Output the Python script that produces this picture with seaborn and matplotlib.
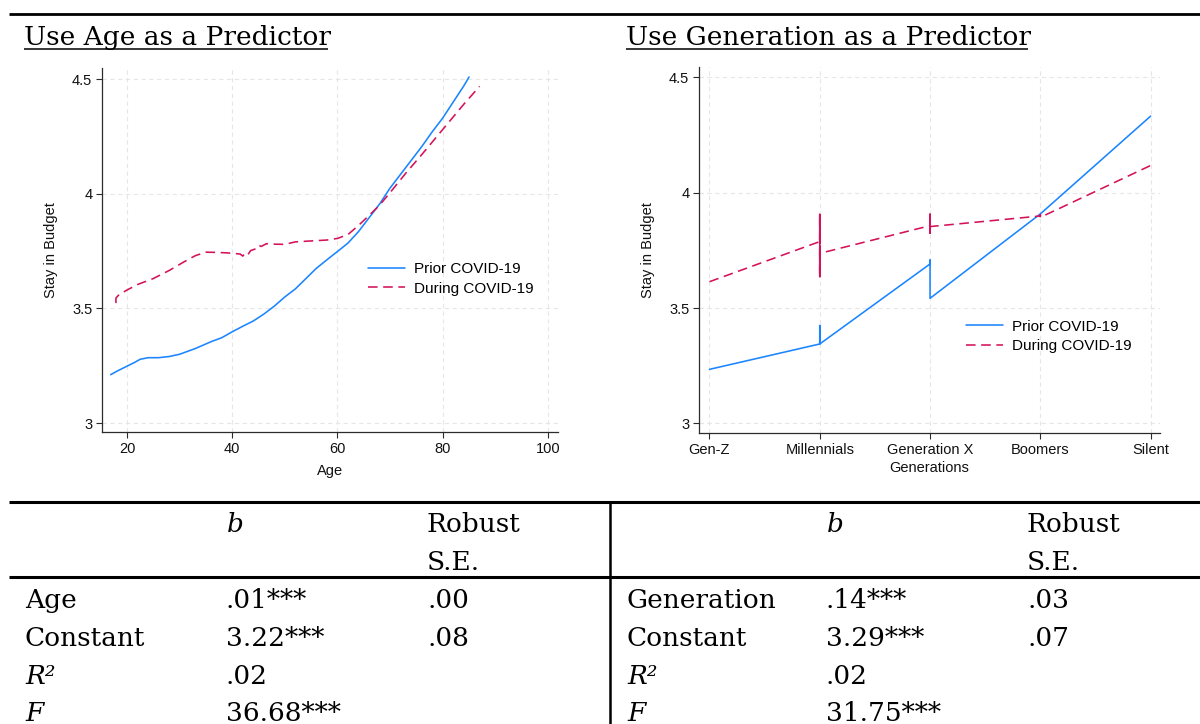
import numpy as np
import pandas as pd
import matplotlib
matplotlib.use("Agg")
import matplotlib.pyplot as plt
import seaborn as sns
from matplotlib.lines import Line2D

# ---------------- data ----------------
age_prior = [16.9, 18, 20, 21.5, 22.5, 24, 26, 28, 30, 33, 36, 38, 40, 42, 44, 46, 48, 50,
             52, 54, 56, 58, 60, 62, 64, 66, 68, 70, 72, 74, 76, 78, 80, 82, 84, 85]
val_prior = [3.211, 3.225, 3.248, 3.265, 3.278, 3.285, 3.285, 3.29, 3.30, 3.325, 3.355, 3.372,
             3.398, 3.422, 3.445, 3.475, 3.51, 3.55, 3.585, 3.63, 3.675, 3.712, 3.748, 3.785,
             3.835, 3.895, 3.955, 4.025, 4.085, 4.145, 4.205, 4.27, 4.33, 4.40, 4.47, 4.509]

age_during = [17.9, 17.9, 18.5, 20, 22, 25, 28, 31, 33, 35, 37, 39, 40, 41.5, 42, 42.5, 43, 43.5,
              44.5, 45, 45.5, 46.5, 48, 50, 52, 55, 58, 60, 62, 64, 66, 68, 70, 73, 76, 80, 84, 87]
val_during = [3.523, 3.545, 3.56, 3.58, 3.604, 3.63, 3.665, 3.705, 3.73, 3.745, 3.744, 3.742,
              3.74, 3.737, 3.728, 3.742, 3.735, 3.752, 3.76, 3.775, 3.77, 3.782, 3.78, 3.779,
              3.79, 3.794, 3.798, 3.805, 3.822, 3.862, 3.905, 3.95, 4.005, 4.09, 4.17, 4.28,
              4.39, 4.468]

generations = ["Gen-Z", "Millennials", "Generation X", "Boomers", "Silent"]
gen_prior_x = [1, 2, 2, 2, 3, 3, 3, 4, 5]
gen_prior_y = [3.234, 3.344, 3.424, 3.344, 3.691, 3.708, 3.542, 3.908, 4.332]
gen_during_x = [1, 2, 2, 2, 2, 2, 2, 2, 2, 3, 3, 3, 3, 3, 3, 4, 4, 4, 5]
gen_during_y = [3.614, 3.788, 3.906, 3.636, 3.906, 3.636, 3.906, 3.636, 3.737,
                3.857, 3.907, 3.824, 3.907, 3.824, 3.853, 3.899, 3.905, 3.893, 4.118]

series_labels = ["Prior COVID-19", "During COVID-19"]
y_ticks = [3, 3.5, 4, 4.5]
y_ticklabels = ["3", "3.5", "4", "4.5"]
age_ticks = [20, 40, 60, 80, 100]

titles = ["Use Age as a Predictor", "Use Generation as a Predictor"]
table_header_b = "b"
table_header_se = ["Robust", "S.E."]
left_row_labels = ["Age", "Constant", "R²", "F"]
left_b = [".01***", "3.22***", ".02", "36.68***"]
left_se = [".00", ".08", "", ""]
right_row_labels = ["Generation", "Constant", "R²", "F"]
right_b = [".14***", "3.29***", ".02", "31.75***"]
right_se = [".03", ".07", "", ""]
italic_labels = {"R²", "F"}

# ---------------- style ----------------
sns.set_theme(style="white")
plt.rcParams["font.family"] = ["Liberation Sans", "DejaVu Sans"]
plt.rcParams["text.color"] = "black"
plt.rcParams["axes.labelcolor"] = "black"

BLUE = "#1a85ff"
RED = "#d41159"
AXC = "#2b2b2b"
W, H = 1200, 724

fig = plt.figure(figsize=(12, 7.24), dpi=100)
fig.patch.set_facecolor("white")


def fx(px):
    return px / W


def fy(py):
    return 1 - py / H


def style_axes(ax):
    ax.set_facecolor("white")
    for s in ["top", "right"]:
        ax.spines[s].set_visible(False)
    for s in ["left", "bottom"]:
        ax.spines[s].set_color(AXC)
        ax.spines[s].set_linewidth(0.9)
    ax.grid(True, color="#e6e6e6", linestyle=(0, (4, 3)), linewidth=0.8)
    ax.set_axisbelow(True)
    ax.tick_params(axis="both", which="major", direction="out", length=4, width=0.8,
                   color=AXC, labelsize=10.5, pad=3, left=True, bottom=True,
                   labelcolor="#111111")
    ax.set_yticks(y_ticks)
    ax.set_yticklabels(y_ticklabels)


# ---------------- left chart ----------------
axL = fig.add_axes([fx(102), fy(432), fx(456), 364 / H])
dfL1 = pd.DataFrame({"x": age_prior, "y": val_prior})
dfL2 = pd.DataFrame({"x": age_during, "y": val_during})
sns.lineplot(data=dfL1, x="x", y="y", ax=axL, color=BLUE, linewidth=1.15,
             sort=False, estimator=None, label=series_labels[0])
sns.lineplot(data=dfL2, x="x", y="y", ax=axL, color=RED, linewidth=1.15,
             linestyle=(0, (6, 3.5)), sort=False, estimator=None, label=series_labels[1])
style_axes(axL)
axL.set_xlim(15.25, 101.9)
axL.set_ylim(2.961, 4.548)
axL.set_xticks(age_ticks)
axL.set_xticklabels([str(t) for t in age_ticks])
axL.set_xlabel("Age", fontsize=10.5, labelpad=6, color="#111111")
axL.set_ylabel("Stay in Budget", fontsize=10.5, labelpad=10, color="#111111")
axL.legend(loc="center left", bbox_to_anchor=(0.583, 0.42), frameon=False,
           fontsize=11, handlelength=2.4, handletextpad=0.6, labelspacing=0.35,
           borderpad=0, borderaxespad=0)

# ---------------- right chart ----------------
axR = fig.add_axes([fx(699), fy(433), fx(461), 366 / H])
dfR1 = pd.DataFrame({"x": gen_prior_x, "y": gen_prior_y})
dfR2 = pd.DataFrame({"x": gen_during_x, "y": gen_during_y})
sns.lineplot(data=dfR1, x="x", y="y", ax=axR, color=BLUE, linewidth=1.15,
             sort=False, estimator=None, label=series_labels[0])
sns.lineplot(data=dfR2, x="x", y="y", ax=axR, color=RED, linewidth=1.15,
             linestyle=(0, (6, 3.5)), sort=False, estimator=None, label=series_labels[1])
style_axes(axR)
axR.set_xlim(0.905, 5.085)
axR.set_ylim(2.958, 4.545)
axR.set_xticks(range(1, len(generations) + 1))
axR.set_xticklabels(generations)
axR.set_xlabel("Generations", fontsize=10.5, labelpad=3, color="#111111")
axR.set_ylabel("Stay in Budget", fontsize=10.5, labelpad=10, color="#111111")
axR.legend(loc="center left", bbox_to_anchor=(0.579, 0.264), frameon=False,
           fontsize=11, handlelength=2.4, handletextpad=0.6, labelspacing=0.35,
           borderpad=0, borderaxespad=0)

# ---------------- document-like frame ----------------
SERIF = "DejaVu Serif"
TS = 19


def hline(y, x0, x1, lw):
    fig.add_artist(Line2D([fx(x0), fx(x1)], [fy(y), fy(y)], transform=fig.transFigure,
                          color="black", linewidth=lw, solid_capstyle="butt"))


def vline(x, y0, y1, lw):
    fig.add_artist(Line2D([fx(x), fx(x)], [fy(y0), fy(y1)], transform=fig.transFigure,
                          color="black", linewidth=lw, solid_capstyle="butt"))


hline(14, 9, 1200, 2.0)

title_texts = []
for tx, title in zip([24, 626], titles):
    t = fig.text(fx(tx), fy(45), title, family=SERIF, fontsize=TS, va="baseline",
                 ha="left", color="black")
    title_texts.append(t)

fig.canvas.draw()
r = fig.canvas.get_renderer()
for t in title_texts:
    bb = t.get_window_extent(renderer=r)
    fig.add_artist(Line2D([bb.x0 / W, (bb.x1 - 3) / W], [fy(49), fy(49)],
                          transform=fig.transFigure,
                          color="black", linewidth=1.1, solid_capstyle="butt"))

# table
hline(501.5, 9, 1200, 2.2)
hline(577, 9, 1200, 2.2)
vline(610, 501.5, 724, 1.8)

for off, rows, bvals, sevals in [(0, left_row_labels, left_b, left_se),
                                 (600, right_row_labels, right_b, right_se)]:
    fig.text(fx(227 + off), fy(532), table_header_b, family=SERIF, style="italic",
             fontsize=TS, va="baseline", color="black")
    fig.text(fx(427 + off), fy(532), table_header_se[0], family=SERIF, fontsize=TS,
             va="baseline", color="black")
    fig.text(fx(427 + off), fy(570), table_header_se[1], family=SERIF, fontsize=TS,
             va="baseline", color="black")
    for i, (lab, bv, sv) in enumerate(zip(rows, bvals, sevals)):
        yb = 608 + i * 37.8
        fig.text(fx(25 + off + (2 if off else 0)), fy(yb), lab, family=SERIF, fontsize=TS,
                 va="baseline", color="black",
                 style="italic" if lab in italic_labels else "normal")
        fig.text(fx(226 + off), fy(yb), bv, family=SERIF, fontsize=TS, va="baseline",
                 color="black")
        if sv:
            fig.text(fx(427 + off), fy(yb), sv, family=SERIF, fontsize=TS, va="baseline",
                     color="black")

fig.savefig("out.png", dpi=100, facecolor="white")
